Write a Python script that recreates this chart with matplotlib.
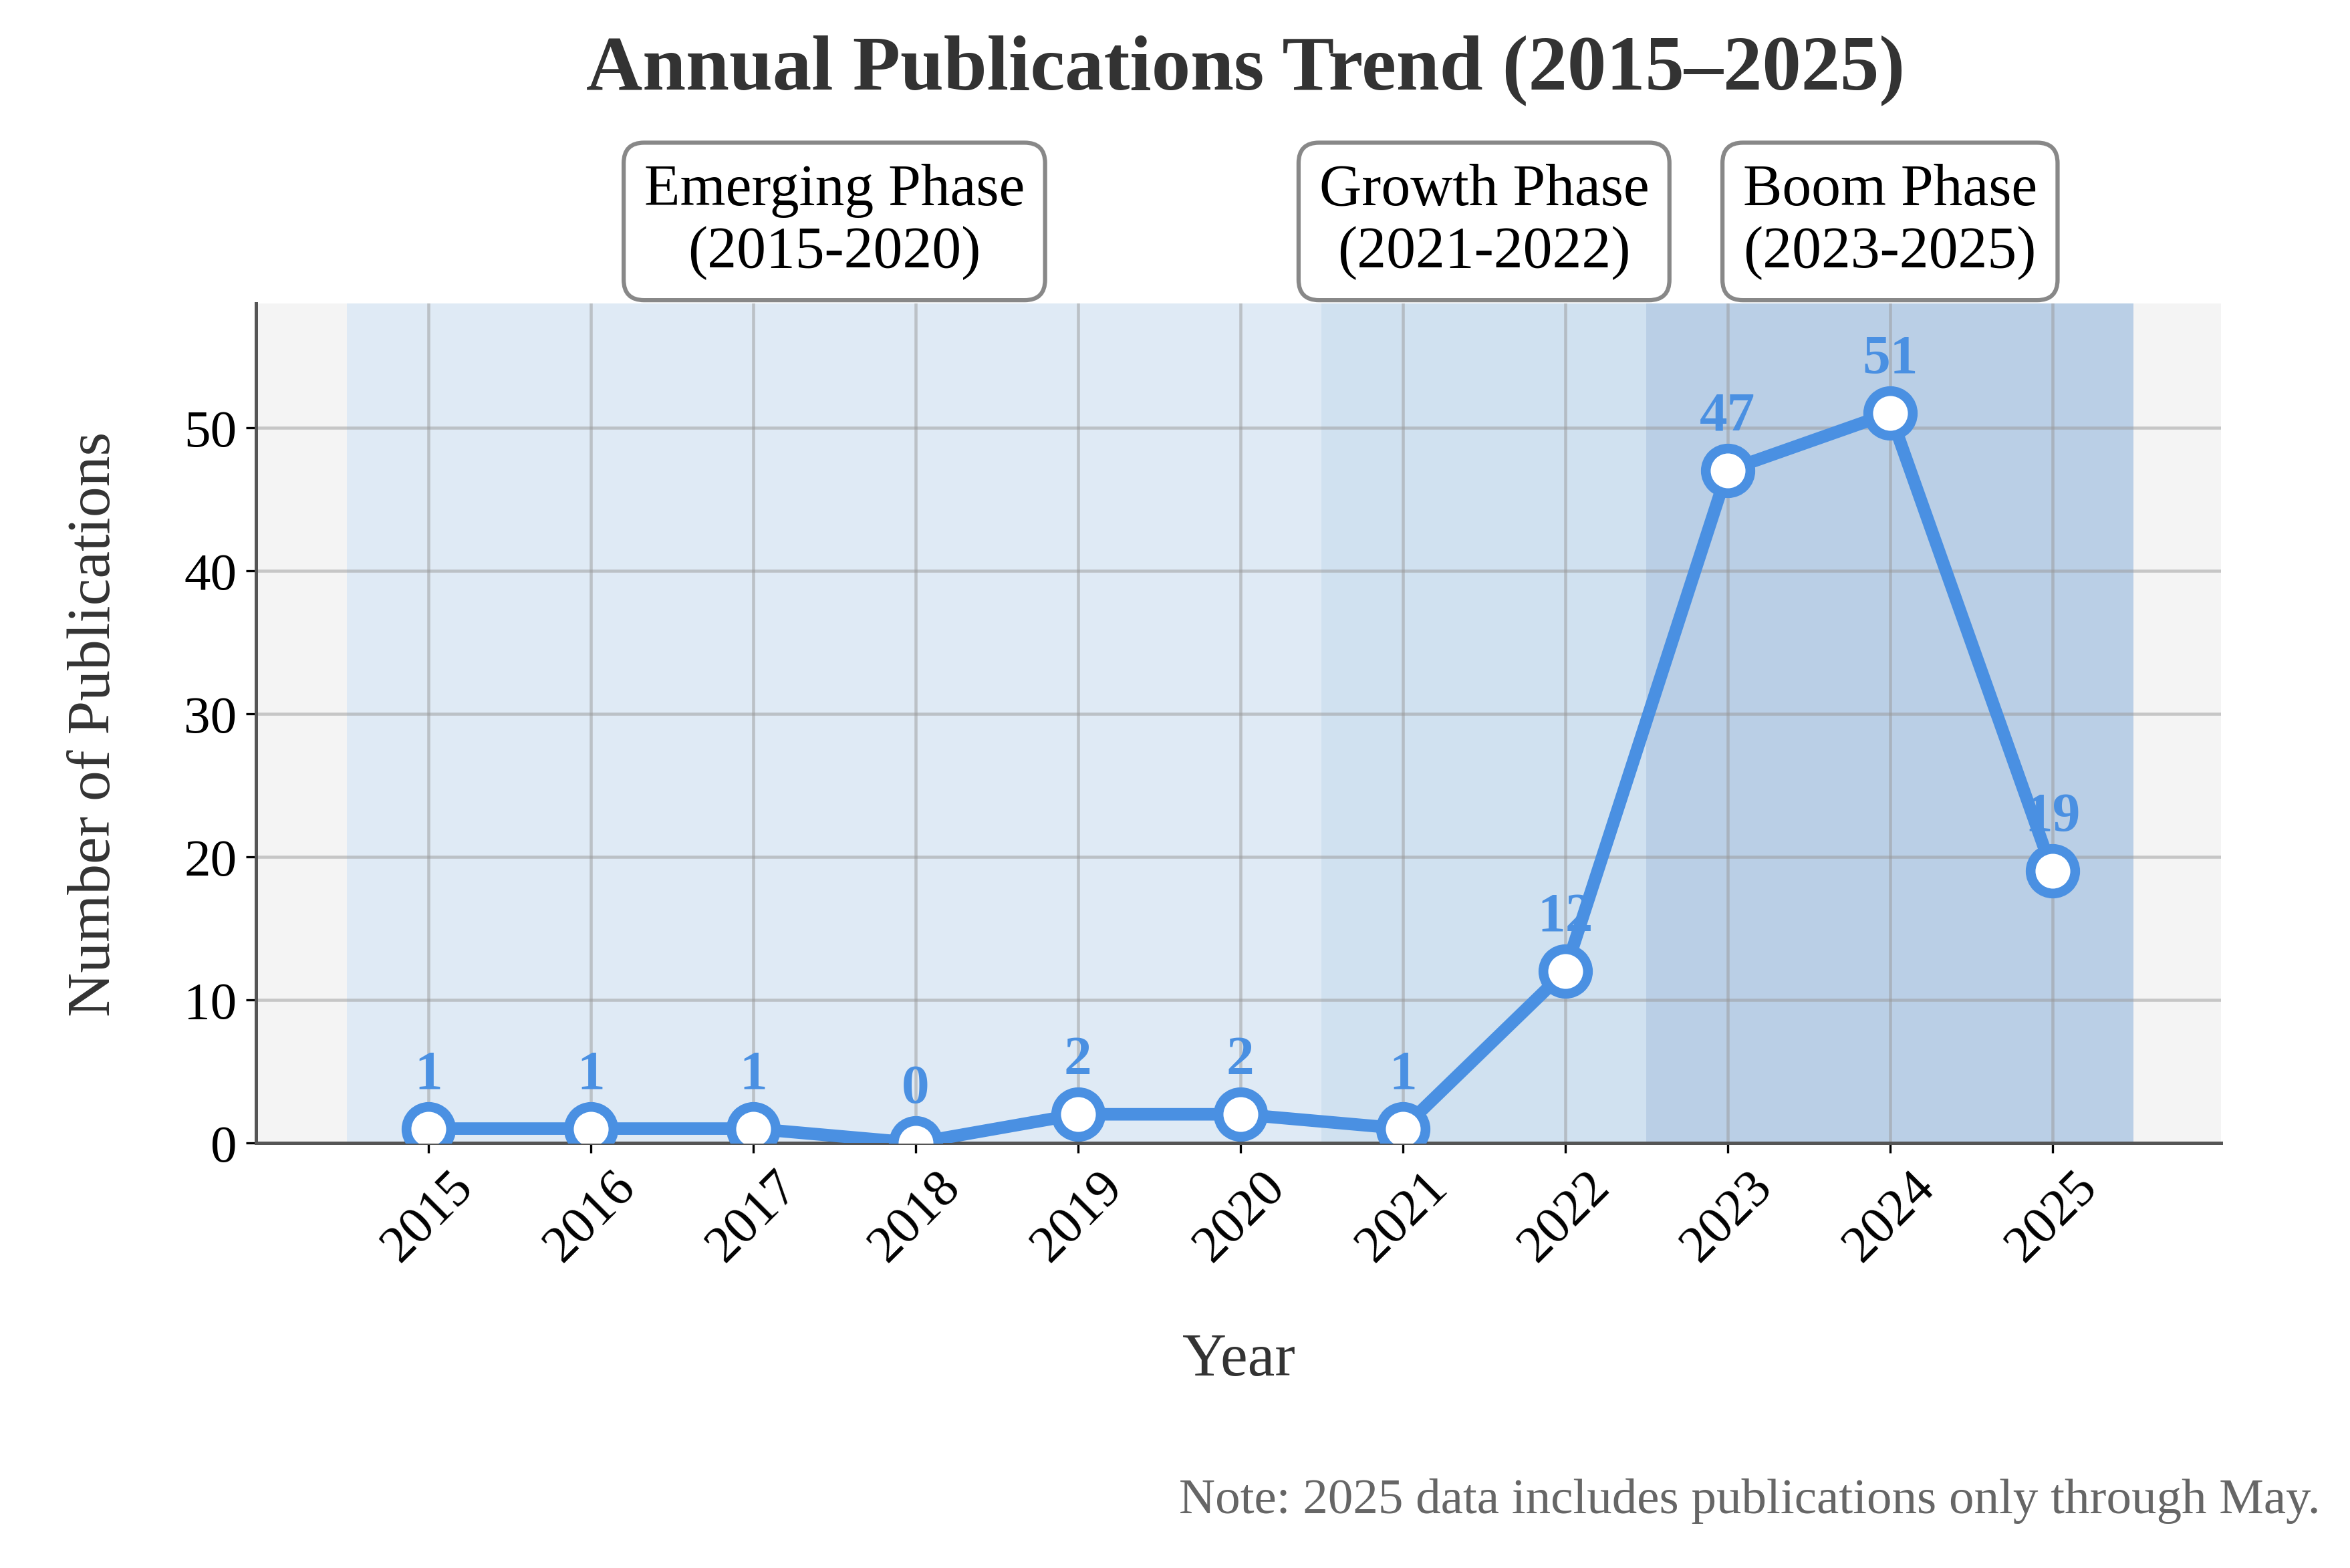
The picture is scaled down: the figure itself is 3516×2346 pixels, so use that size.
import matplotlib
matplotlib.use("Agg")
import matplotlib.pyplot as plt

years = [2015, 2016, 2017, 2018, 2019, 2020, 2021, 2022, 2023, 2024, 2025]
counts = [1, 1, 1, 0, 2, 2, 1, 12, 47, 51, 19]
phases = [("Emerging Phase\n(2015-2020)", 2014.5, 2020.5, "#dfeaf5", 2017.5),
          ("Growth Phase\n(2021-2022)", 2020.5, 2022.5, "#d0e1f0", 2021.5),
          ("Boom Phase\n(2023-2025)", 2022.5, 2025.5, "#bacfe6", 2024.0)]

plt.rcParams['font.family'] = ['Liberation Serif', 'DejaVu Serif']
fig = plt.figure(figsize=(11.723, 7.823), dpi=300)
ax = fig.add_axes([0.109, 0.271, 0.836, 0.535])
ax.set_facecolor("#f4f4f4")
for name, a, b, c, cx in phases:
    ax.axvspan(a, b, color=c, zorder=0, lw=0)
    ax.text(cx, 64.4, name, ha='center', va='center', fontsize=21, color='black',
            bbox=dict(boxstyle='round,pad=0.35', fc='white', ec='#888888', lw=1.5), clip_on=False)
ax.grid(True, color='#999999', alpha=0.5, lw=1.1)
ax.set_axisbelow(True)
ax.plot(years, counts, color='#4a90e2', lw=4.5, marker='o', ms=16, mfc='white', mec='#4a90e2', mew=3.5, zorder=3)
for x, y in zip(years, counts):
    ax.text(x, y + 2.0, str(y), ha='center', va='bottom', fontsize=20, fontweight='bold', color='#4a90e2', zorder=4)
ax.set_xlim(2013.94, 2026.04)
ax.set_ylim(0, 58.65)
ax.set_xticks(years)
ax.set_xticklabels([str(y) for y in years], rotation=45, fontsize=19)
ax.set_yticks([0, 10, 20, 30, 40, 50])
ax.tick_params(axis='y', labelsize=19)
for s in ['top', 'right']:
    ax.spines[s].set_visible(False)
for s in ['left', 'bottom']:
    ax.spines[s].set_color('#555555')
    ax.spines[s].set_linewidth(1.2)
ax.set_xlabel("Year", fontsize=22, color='#333333', labelpad=22)
ax.set_ylabel("Number of Publications", fontsize=22, color='#333333', labelpad=22)
fig.text(0.53, 0.955, "Annual Publications Trend (2015–2025)", ha='center', va='center',
         fontsize=28, fontweight='bold', color='#333333')
fig.text(0.987, 0.043, "Note: 2025 data includes publications only through May.", ha='right',
         va='center', fontsize=18, color='#666666')
fig.savefig("out.png", dpi=300)
